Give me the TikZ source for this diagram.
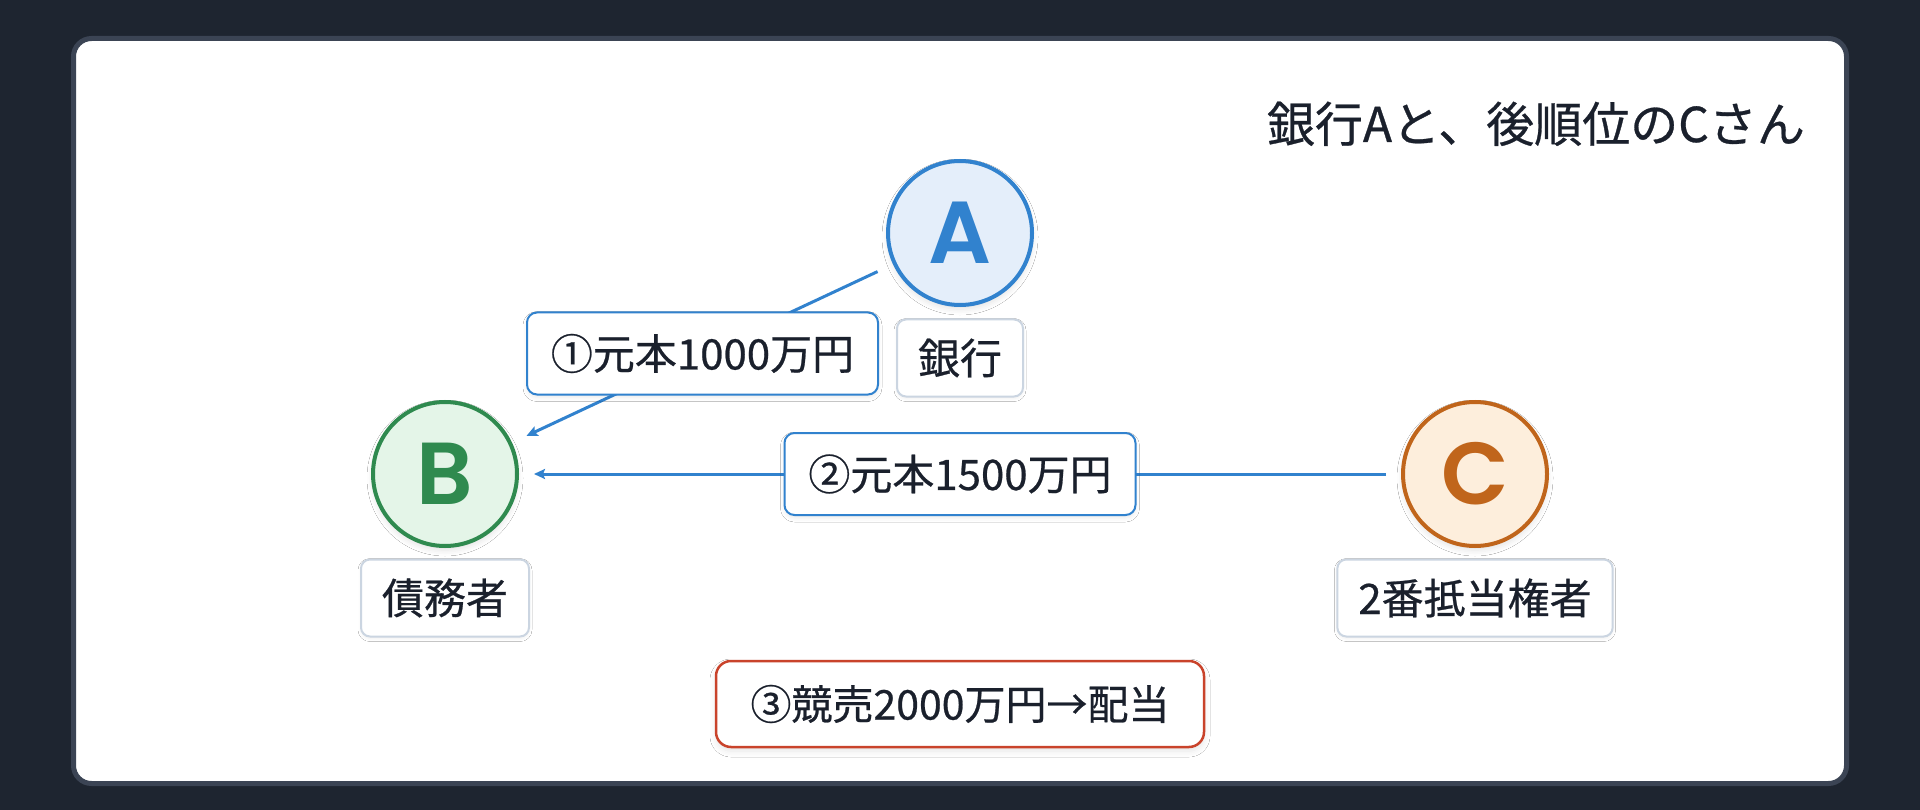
\documentclass[tikz,border=0pt]{standalone}
\usepackage{fontspec}
\setmainfont{Noto Sans CJK JP}[BoldFont=Noto Sans CJK JP, BoldFeatures={FakeBold=0.6}]
\newfontfamily\letterfont{Poppins}[UprightFont=* SemiBold]
\usetikzlibrary{arrows.meta,shadows.blur}
\definecolor{bgdark}{HTML}{1E2530}
\definecolor{cardedge}{HTML}{3B4454}
\definecolor{ink}{HTML}{1A202C}
\definecolor{blueA}{HTML}{3182CE}
\definecolor{blueFill}{HTML}{E4EEFA}
\definecolor{greenB}{HTML}{2F8A4F}
\definecolor{greenFill}{HTML}{E4F5E8}
\definecolor{orangeC}{HTML}{C0651B}
\definecolor{orangeFill}{HTML}{FDEEDC}
\definecolor{redbox}{HTML}{C9432B}
\definecolor{grayedge}{HTML}{CBD5E1}
\begin{document}
\begin{tikzpicture}[x=1pt,y=-1pt,
  party/.style={circle, minimum size=144pt, inner sep=0pt, line width=4pt,
    font=\fontsize{88}{88}\letterfont,
    blur shadow={shadow xshift=0pt, shadow yshift=-4pt, shadow blur radius=6pt, shadow opacity=12}},
  rolebox/.style={draw=grayedge, line width=2pt, fill=white, rounded corners=9pt,
    minimum height=77pt, inner xsep=21pt, text=ink, font=\fontsize{42}{50}\selectfont\bfseries,
    blur shadow={shadow xshift=0pt, shadow yshift=-2pt, shadow blur radius=3pt, shadow opacity=6}},
  edgebox/.style={draw=blueA, line width=2pt, fill=white, rounded corners=10pt,
    minimum height=82pt, minimum width=351pt, inner xsep=20pt, text=ink, font=\fontsize{42}{50}\selectfont\bfseries,
    blur shadow={shadow xshift=0pt, shadow yshift=-3pt, shadow blur radius=4pt, shadow opacity=8}},
  salebox/.style={draw=redbox, line width=2.5pt, fill=white, rounded corners=15pt,
    minimum height=86pt, minimum width=488pt, text=ink, font=\fontsize{41}{50}\selectfont\bfseries,
    blur shadow={shadow xshift=0pt, shadow yshift=-4pt, shadow blur radius=6pt, shadow opacity=10}},
  flow/.style={draw=blueA, line width=3pt, -{Stealth[length=11pt,width=10pt,inset=2pt]}},
  titletext/.style={inner sep=0pt, text=ink, font=\fontsize{48}{56}\selectfont\bfseries}
]
\useasboundingbox (0,0) rectangle (1920,810);
\fill[bgdark] (0,0) rectangle (1920,810);
\draw[cardedge, line width=5pt, fill=white, rounded corners=18pt] (73.5,38.5) rectangle (1846.5,783.5);

\node[titletext, anchor=base east] (title) at (1805,142) {銀行Aと、後順位のCさん};

\node[party, draw=blueA, fill=blueFill, text=blueA] (A) at (960,233) {A};
\node[party, draw=greenB, fill=greenFill, text=greenB] (B) at (445,474) {B};
\node[party, draw=orangeC, fill=orangeFill, text=orangeC] (C) at (1475,474) {C};

\node[rolebox] (rA) at (960,358) {銀行};
\node[rolebox] (rB) at (445,598) {債務者};
\node[rolebox] (rC) at (1475,598) {2番抵当権者};

\draw[flow, shorten <=17pt, shorten >=16pt] (A) -- (B) node[midway, edgebox] (l1) {①元本1000万円};
\draw[flow, shorten <=15pt, shorten >=15pt] (C) -- (B) node[midway, edgebox] (l2) {②元本1500万円};

\node[salebox] (sale) at (960,704) {③競売2000万円→配当};
\end{tikzpicture}
\end{document}
